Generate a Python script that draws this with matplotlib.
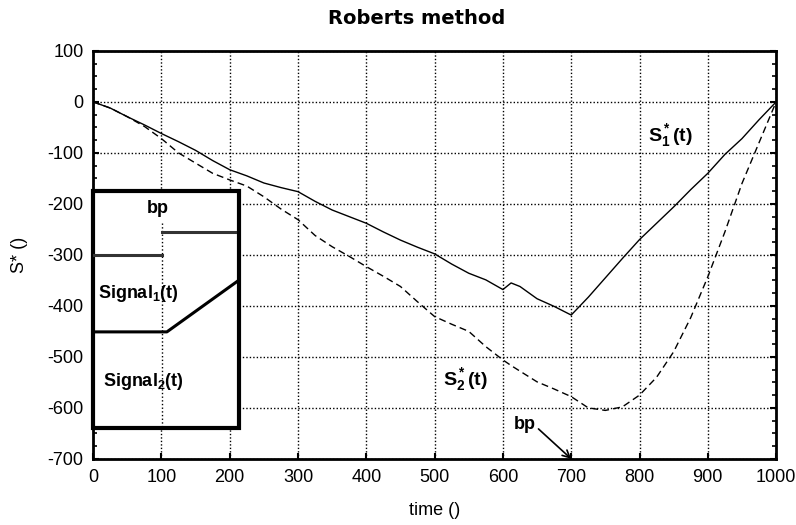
import matplotlib
matplotlib.use("Agg")
import matplotlib.pyplot as plt
from matplotlib.patches import Rectangle
from matplotlib.ticker import MultipleLocator

plt.rcParams['font.family'] = ['Liberation Sans', 'DejaVu Sans']
plt.rcParams['axes.unicode_minus'] = False
plt.rcParams['mathtext.fontset'] = 'custom'
plt.rcParams['mathtext.bf'] = 'Liberation Sans:bold'
plt.rcParams['mathtext.rm'] = 'Liberation Sans:bold'
plt.rcParams['mathtext.default'] = 'bf'

# values
t = [0, 25, 50, 75, 100, 125, 150, 175, 200, 225, 250, 275, 300, 325, 350,
     375, 400, 425, 450, 475, 500, 525, 550, 575, 600, 612, 625, 650, 675,
     700, 725, 750, 775, 800, 825, 850, 875, 900, 925, 950, 975, 1000]
s1 = [0, -12, -29, -45, -62, -78, -95, -115, -133, -145, -159, -168, -176,
      -195, -212, -225, -238, -255, -271, -285, -298, -318, -336, -349, -368,
      -355, -362, -386, -401, -418, -383, -345, -307, -270, -238, -206, -172,
      -140, -103, -72, -35, 0]
s2 = [0, -12, -29, -48, -72, -100, -120, -140, -153, -165, -186, -210, -231,
      -262, -284, -303, -323, -342, -362, -392, -421, -436, -450, -480, -506,
      -517, -528, -549, -563, -578, -600, -605, -598, -575, -540, -490, -423,
      -343, -255, -160, -80, 0]

# inset sketch of the two signals (data units of the main axes)
sig1_t = [0, 101, 101, 208]
sig1_y = [-300, -300, -255, -255]
sig2_t = [0, 108, 212]
sig2_y = [-451, -451, -351]

fig = plt.figure(figsize=(7.96, 5.25), dpi=100)
ax = fig.add_axes([0.117, 0.126, 0.858, 0.777])

ax.plot(t, s1, color='black', lw=1.0)
ax.plot(t, s2, color='black', lw=1.0, dashes=(5, 3))

ax.set_xlim(0, 1000)
ax.set_ylim(-700, 100)
ax.set_xticks(range(0, 1001, 100))
ax.set_yticks(range(-700, 101, 100))
ax.yaxis.set_minor_locator(MultipleLocator(25))
ax.tick_params(which='both', direction='in', right=True, labelsize=13)
ax.tick_params(which='major', length=4, width=1.5, pad=7)
ax.tick_params(which='minor', length=3, width=1.2)
ax.grid(True, color='black', linestyle=(0, (1, 1.5)), lw=1.0)
for sp in ax.spines.values():
    sp.set_linewidth(2)

fig.text(0.523, 0.965, 'Roberts method', fontsize=14, fontweight='bold',
         family='DejaVu Sans', ha='center', va='center')
ax.set_xlabel('time ()', fontsize=13, labelpad=12)
ax.set_ylabel('S* ()', fontsize=13, labelpad=14)

# inset box
box = Rectangle((0, -639), 214, 465, facecolor='white', edgecolor='black',
                lw=3, zorder=3, clip_on=False)
ax.add_patch(box)
ax.plot([101, 101], [-237, -639], color='black', lw=1, ls=':', zorder=4)
ax.plot(sig1_t[:2], sig1_y[:2], color='#333333', lw=2.2, zorder=4)
ax.plot(sig1_t[2:], sig1_y[2:], color='#333333', lw=2.2, zorder=4)
ax.plot(sig2_t, sig2_y, color='black', lw=2.2, zorder=4)
ax.text(95, -210, 'bp', fontsize=13, fontweight='bold', ha='center',
        va='center', zorder=5)
ax.text(7, -375, r'Signal$_1$(t)', fontsize=13, fontweight='bold',
        va='center', zorder=5)
ax.text(15, -549, r'Signal$_2$(t)', fontsize=13, fontweight='bold',
        va='center', zorder=5)

ax.text(812, -65, r'S$^*_1$(t)', fontsize=14, fontweight='bold', va='center')
ax.text(512, -545, r'S$^*_2$(t)', fontsize=14, fontweight='bold', va='center')
ax.annotate('bp', xy=(700, -700), xytext=(648, -633), fontsize=13,
            fontweight='bold', ha='right', va='center',
            arrowprops=dict(arrowstyle='->', color='black', lw=1.2,
                            shrinkA=0, shrinkB=0, relpos=(1, 0.4)))

fig.savefig('out.png', dpi=100)
